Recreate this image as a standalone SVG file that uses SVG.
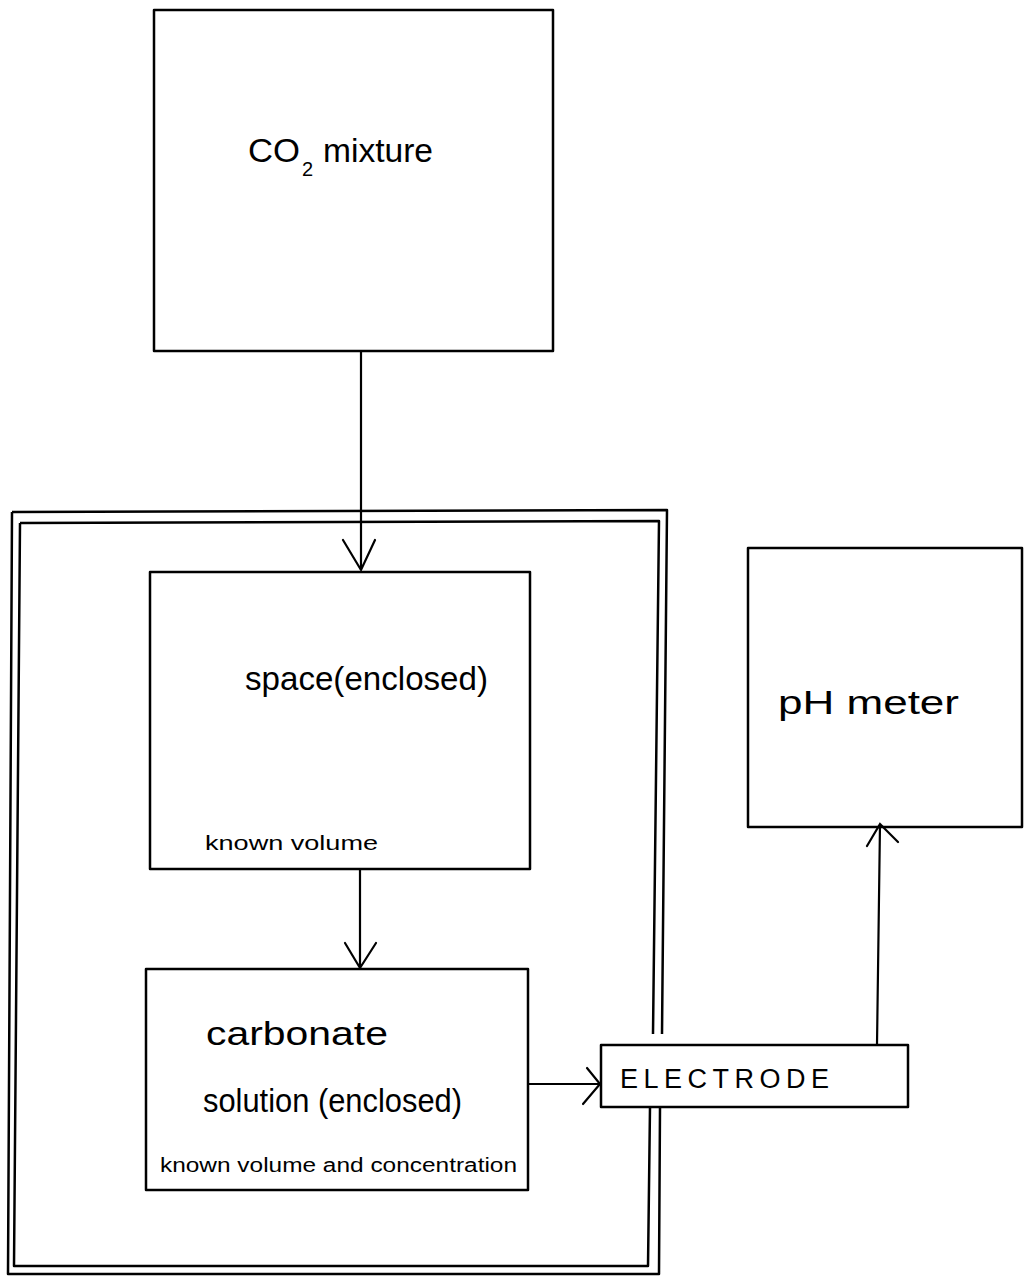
<svg xmlns="http://www.w3.org/2000/svg" width="1024" height="1279" viewBox="0 0 1024 1279">
<style>
.box{fill:none;stroke:#000;stroke-width:2.5;stroke-linejoin:round}
.ln{fill:none;stroke:#000;stroke-width:2.2;stroke-linecap:round}
.big{font-family:"Liberation Sans","DejaVu Sans",sans-serif;font-size:34px;fill:#000}
.small{font-family:"Liberation Sans","DejaVu Sans",sans-serif;font-size:20px;fill:#000}
.mono{font-family:"Liberation Sans","DejaVu Sans",sans-serif;font-size:27px;letter-spacing:5.5px;fill:#000}
</style>
<rect width="1024" height="1279" fill="#fff"/>
<g id="enclosure">
<path class="box" d="M12 512 L667 510 L662 1034 M12 512 L8 1274 L659 1274 L660 1107"/>
<path class="box" d="M20 523 L659 521 L653 1034 M20 523 L14 1266 L648 1266 L650 1107"/>
</g>
<g id="co2-mixture">
<rect class="box" x="154" y="10" width="399" height="341"/>
<text class="big" x="248" y="162" textLength="52" lengthAdjust="spacingAndGlyphs">CO</text>
<text class="small" x="302" y="176">2</text>
<text class="big" x="323" y="162" textLength="110" lengthAdjust="spacingAndGlyphs">mixture</text>
</g>
<g id="space">
<rect class="box" x="150" y="572" width="380" height="297"/>
<text class="big" x="245" y="690" textLength="243" lengthAdjust="spacingAndGlyphs">space(enclosed)</text>
<text class="small" x="205" y="850" textLength="173" lengthAdjust="spacingAndGlyphs">known volume</text>
</g>
<g id="carbonate-solution">
<rect class="box" x="146" y="969" width="382" height="221"/>
<text class="big" x="206" y="1045" textLength="182" lengthAdjust="spacingAndGlyphs">carbonate</text>
<text class="big" x="203" y="1112" textLength="259" lengthAdjust="spacingAndGlyphs">solution (enclosed)</text>
<text class="small" x="160" y="1172" textLength="357" lengthAdjust="spacingAndGlyphs">known volume and concentration</text>
</g>
<g id="electrode">
<rect class="box" x="601" y="1045" width="307" height="62"/>
<text class="mono" x="620" y="1088">ELECTRODE</text>
</g>
<g id="ph-meter">
<rect class="box" x="748" y="548" width="274" height="279"/>
<text class="big" x="778" y="714" textLength="181" lengthAdjust="spacingAndGlyphs">pH meter</text>
</g>
<g id="connectors">
<path class="ln" d="M361 351 L361 570 M343 540 L361 570 L375 540"/>
<path class="ln" d="M360 869 L360 968 M345 943 L360 968 L376 943"/>
<path class="ln" d="M528 1084 L600 1084 M587 1068 L600 1084 L583 1104"/>
<path class="ln" d="M877 1045 L880 824 M867 846 L880 824 L898 842"/>
</g>
</svg>
